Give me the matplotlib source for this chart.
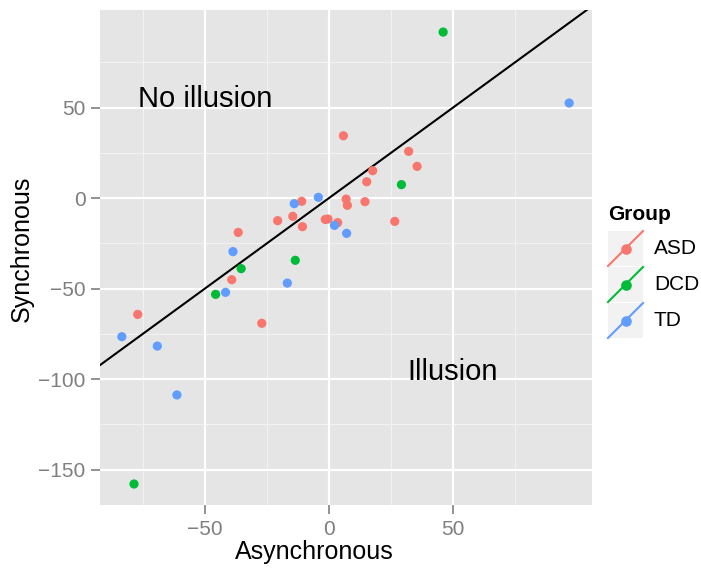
import matplotlib
matplotlib.use("Agg")
import matplotlib.pyplot as plt
from matplotlib.lines import Line2D
from matplotlib.patches import Rectangle

plt.rcParams['font.family'] = ['Liberation Sans', 'DejaVu Sans']

groups = ["ASD", "DCD", "TD"]
colors = {"ASD": "#F8766D", "DCD": "#00BA38", "TD": "#619CFF"}

asd_x = [5.8, 32.1, 35.5, 17.6, 15.2, 6.9, 7.4, 14.5, -11.0, -20.7, -14.6, -10.7, -1.5, -0.4, 3.5, 26.5, -36.6, -39.2, -27.1, -77.1]
asd_y = [34.4, 25.8, 17.5, 15.1, 9.0, -0.6, -4.0, -2.0, -1.8, -12.5, -10.1, -15.8, -11.8, -11.6, -13.6, -12.9, -19.0, -45.1, -69.2, -64.3]
dcd_x = [29.2, -35.4, -13.6, -45.7, -78.6, 46.0]
dcd_y = [7.4, -39.0, -34.4, -53.2, -158.0, 91.7]
td_x = [-4.3, -14.0, 2.2, 7.1, -38.7, -16.8, -41.7, -83.5, -69.2, -61.3, 96.8]
td_y = [0.4, -3.1, -15.1, -19.5, -29.6, -47.0, -52.1, -76.6, -81.8, -108.8, 52.5]
data = {"ASD": (asd_x, asd_y), "DCD": (dcd_x, dcd_y), "TD": (td_x, td_y)}

xticks = [-50, 0, 50]
yticks = [-150, -100, -50, 0, 50]
xminor = [-75, -25, 25, 75]
yminor = [-125, -75, -25, 25, 75]

W, H = 701, 569
fig = plt.figure(figsize=(W / 100, H / 100), dpi=100)
fig.patch.set_facecolor("white")
L, R, T, B = 100, 592, 10, 505
ax = fig.add_axes([L / W, (H - B) / H, (R - L) / W, (B - T) / H])
ax.set_facecolor("#E5E5E5")
ax.set_xlim(-92.3, 106.0)
ax.set_ylim(-169.6, 103.9)

for v in xminor:
    ax.axvline(v, color="#F2F2F2", lw=0.8, zorder=0.5)
for v in yminor:
    ax.axhline(v, color="#F2F2F2", lw=0.8, zorder=0.5)
for v in xticks:
    ax.axvline(v, color="white", lw=1.6, zorder=0.6)
for v in yticks:
    ax.axhline(v, color="white", lw=1.6, zorder=0.6)

ax.axline((0, 0), slope=1, color="black", lw=1.5, zorder=2)

for g in groups:
    xs, ys = data[g]
    ax.scatter(xs, ys, s=44, color=colors[g], edgecolors="none", zorder=3)

ax.text(-50, 55, "No illusion", fontsize=21, ha="center", va="center")
ax.text(50, -96, "Illusion", fontsize=21, ha="center", va="center")

for s in ax.spines.values():
    s.set_visible(False)
ax.set_xticks(xticks)
ax.set_yticks(yticks)
ax.set_xticklabels([str(v).replace("-", "\u2212") for v in xticks])
ax.set_yticklabels([str(v).replace("-", "\u2212") for v in yticks])
ax.tick_params(axis="both", colors="#7F7F7F", labelcolor="#7F7F7F", labelsize=15, length=6.5, width=1.2)
ax.tick_params(axis="x", pad=4)
ax.tick_params(axis="y", pad=4)

fig.text(314 / W, 1 - 552 / H, "Asynchronous", fontsize=18, ha="center", va="center")
fig.text(22 / W, 1 - 249 / H, "Synchronous", fontsize=18, ha="center", va="center", rotation=90)

# legend
fig.text(608 / W, 1 - 214 / H, "Group", fontsize=15, fontweight="bold", va="center", ha="left")
key_x0, key_w, key_h = 608, 35, 35
tops = [231, 267, 303]
for g, top in zip(groups, tops):
    fig.patches.append(Rectangle((key_x0 / W, 1 - (top + key_h) / H), key_w / W, key_h / H,
                                 transform=fig.transFigure, facecolor="#F2F2F2", edgecolor="none"))
    fig.lines.append(Line2D([key_x0 / W, (key_x0 + key_w) / W], [1 - (top + key_h) / H, 1 - top / H],
                            transform=fig.transFigure, color=colors[g], lw=1.5))
    fig.lines.append(Line2D([(key_x0 + key_w / 2) / W], [1 - (top + key_h / 2) / H],
                            transform=fig.transFigure, color=colors[g], marker="o", markersize=6.6, ls="none"))
    fig.text(654 / W, 1 - (top + key_h / 2) / H, g, fontsize=15, va="center", ha="left")

fig.savefig("out.png", dpi=100)
